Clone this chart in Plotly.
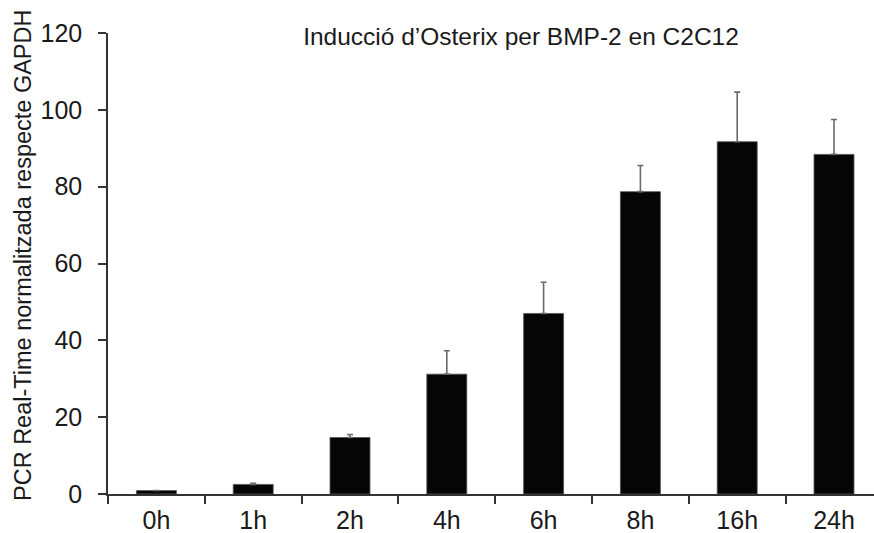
import plotly.graph_objects as go

categories = ["0h", "1h", "2h", "4h", "6h", "8h", "16h", "24h"]
values = [0.9, 2.5, 14.7, 31.2, 47.0, 78.7, 91.7, 88.4]
errors = [0.0, 0.3, 0.8, 6.1, 8.1, 6.8, 12.9, 9.1]
y_ticks = [0, 20, 40, 60, 80, 100, 120]
title_text = "Inducció d’Osterix per BMP-2 en C2C12"
y_title = "PCR Real-Time normalitzada respecte GAPDH"

W, H = 874, 533
L, T, B, R = 108, 33, 39, 0
FONT = "Liberation Sans, Arial, Helvetica, sans-serif"
TXT = "#1a1a1a"
AX = "#333333"

fig = go.Figure(
    go.Bar(
        x=categories,
        y=values,
        marker=dict(color="#050505", line=dict(color="#555555", width=0.8)),
        error_y=dict(type="data", array=errors, symmetric=False,
                     arrayminus=[0] * len(errors),
                     color="#6a6a6a", thickness=1.6, width=3),
    )
)

plot_w = W - L - R
# category width ~96.8 px; axis begins at -0.5
right = -0.5 + plot_w / 96.8

fig.update_layout(
    width=W, height=H,
    margin=dict(l=L, r=R, t=T, b=B, autoexpand=False),
    paper_bgcolor="white", plot_bgcolor="white",
    bargap=0.587,
    showlegend=False,
    font=dict(family=FONT, color=TXT),
    title=dict(text=title_text, font=dict(size=24.5, color=TXT, family=FONT),
               xref="paper", x=(521 - L) / plot_w, xanchor="center",
               yref="container", y=1 - 36 / H, yanchor="middle"),
    annotations=[dict(text=y_title, textangle=-90, showarrow=False,
                      xref="paper", yref="paper",
                      x=(23 - L) / plot_w, y=(494 - 256) / (H - T - B),
                      xanchor="center", yanchor="middle",
                      font=dict(size=23.5, color=TXT, family=FONT))],
)

fig.update_xaxes(
    type="category", range=[-0.5, right],
    showline=True, linecolor=AX, linewidth=1.5,
    ticks="outside", tickson="boundaries", ticklen=8, tickwidth=1.5, tickcolor=AX,
    tickfont=dict(size=25, color=TXT, family=FONT),
    ticklabelstandoff=3,
    showgrid=False, zeroline=False, automargin=False,
)
fig.update_yaxes(
    range=[0, 120], tickvals=y_ticks,
    ticklabelposition="outside", ticklabelstandoff=11,
    showline=True, linecolor=AX, linewidth=1.5,
    ticks="outside", ticklen=8, tickwidth=1.5, tickcolor=AX,
    tickfont=dict(size=25, color=TXT, family=FONT),
    showgrid=False, zeroline=False, automargin=False,
)

fig.write_html("out.html")
